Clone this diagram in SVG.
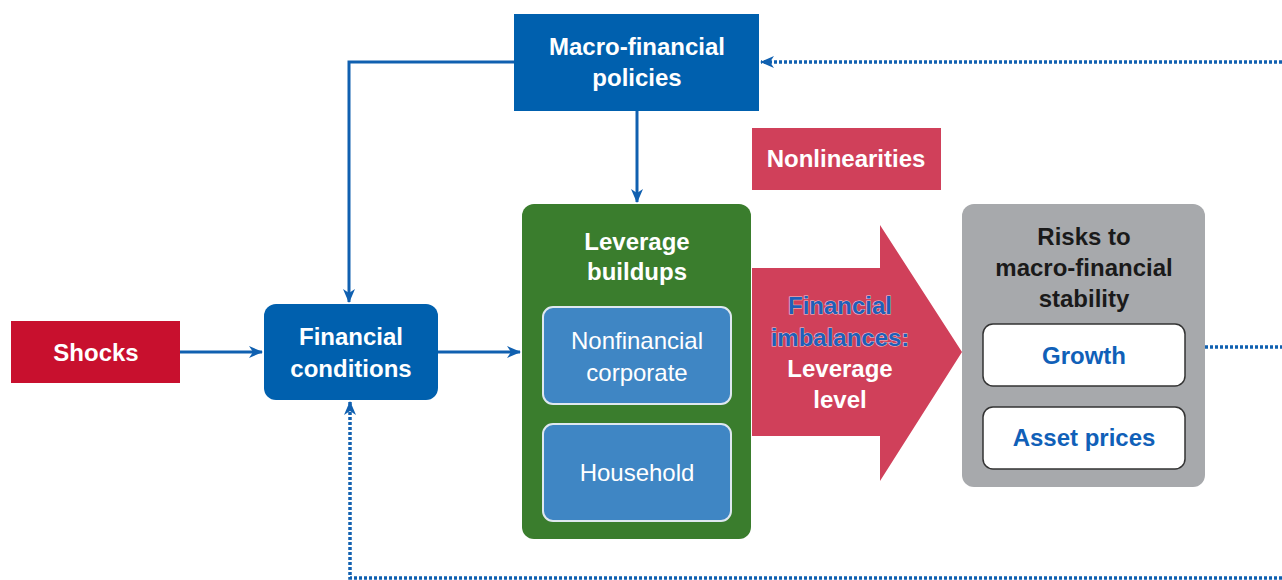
<svg xmlns="http://www.w3.org/2000/svg" width="1282" height="580" viewBox="0 0 1282 580">
<defs>
<style>
text{font-family:"Liberation Sans Narrow","Liberation Sans",Arial,sans-serif;text-anchor:middle;}
.b{font-weight:bold;}
.w{fill:#ffffff;}
.t{font-size:24px;}
.line{fill:none;stroke:#1060b0;stroke-width:3;}
.dot{fill:none;stroke:#1060b0;stroke-width:3.5;stroke-dasharray:3 2;}
</style>
<marker id="ah" viewBox="0 0 14 12" refX="13" refY="6" markerWidth="14" markerHeight="12" markerUnits="userSpaceOnUse" orient="auto">
<path d="M0,0 L14,6 L0,12 L4,6 Z" fill="#1060b0"/>
</marker>
</defs>
<g id="connectors">
<path class="line" d="M514,62 H349 V302" marker-end="url(#ah)"/>
<path class="line" d="M637,111 V202" marker-end="url(#ah)"/>
<path class="line" d="M180,352 H262" marker-end="url(#ah)"/>
<path class="line" d="M438,352 H520" marker-end="url(#ah)"/>
<path class="dot" d="M1282,62 H761" marker-end="url(#ah)"/>
<path class="dot" d="M1185,347 H1282"/>
<path class="dot" d="M1282,578 H350 V402" marker-end="url(#ah)"/>
</g>
<g id="macro">
<rect x="514" y="14" width="245" height="97" fill="#0060ae"/>
<text class="b w t" x="637" y="55">Macro-financial</text>
<text class="b w t" x="637" y="86">policies</text>
</g>
<g id="nonlin">
<rect x="752" y="128" width="189" height="62" fill="#d0405a"/>
<text class="b w t" x="846" y="167">Nonlinearities</text>
</g>
<g id="shocks">
<rect x="11" y="321" width="169" height="62" fill="#c8102e"/>
<text class="b w t" x="96" y="361">Shocks</text>
</g>
<g id="fincond">
<rect x="264" y="304" width="174" height="96" rx="12" fill="#0060ae"/>
<text class="b w t" x="351" y="345">Financial</text>
<text class="b w t" x="351" y="377">conditions</text>
</g>
<g id="leverage">
<rect x="522" y="204" width="229" height="335" rx="12" fill="#3a7d2d"/>
<text class="b w t" x="637" y="250">Leverage</text>
<text class="b w t" x="637" y="280">buildups</text>
</g>
<g id="nonfin">
<rect x="543" y="307" width="188" height="97" rx="10" fill="#3f86c4" stroke="#dfe8f0" stroke-width="2"/>
<text class="w t" x="637" y="349">Nonfinancial</text>
<text class="w t" x="637" y="381">corporate</text>
</g>
<g id="household">
<rect x="543" y="424" width="188" height="97" rx="10" fill="#3f86c4" stroke="#dfe8f0" stroke-width="2"/>
<text class="w t" x="637" y="481">Household</text>
</g>
<g id="imbalances">
<path d="M752,268 H880 V225 L962,352 L880,481 V436 H752 Z" fill="#d0405a"/>
<text class="b t" x="840" y="314" fill="#1f5fb8" stroke="#f2c8d0" stroke-width="1" paint-order="stroke">Financial</text>
<text class="b t" x="840" y="346" fill="#1f5fb8" stroke="#f2c8d0" stroke-width="1" paint-order="stroke">imbalances:</text>
<text class="b w t" x="840" y="377">Leverage</text>
<text class="b w t" x="840" y="408">level</text>
</g>
<g id="risks">
<rect x="962" y="204" width="243" height="283" rx="12" fill="#a7a9ac"/>
<text class="b t" x="1084" y="245" fill="#1a1a1a">Risks to</text>
<text class="b t" x="1084" y="276" fill="#1a1a1a">macro-financial</text>
<text class="b t" x="1084" y="307" fill="#1a1a1a">stability</text>
</g>
<g id="growth">
<rect x="983" y="324" width="202" height="62" rx="10" fill="#ffffff" stroke="#333333" stroke-width="1.5"/>
<text class="b t" x="1084" y="364" fill="#1060b8">Growth</text>
</g>
<g id="asset">
<rect x="983" y="407" width="202" height="62" rx="10" fill="#ffffff" stroke="#333333" stroke-width="1.5"/>
<text class="b t" x="1084" y="446" fill="#1060b8">Asset prices</text>
</g>
</svg>
